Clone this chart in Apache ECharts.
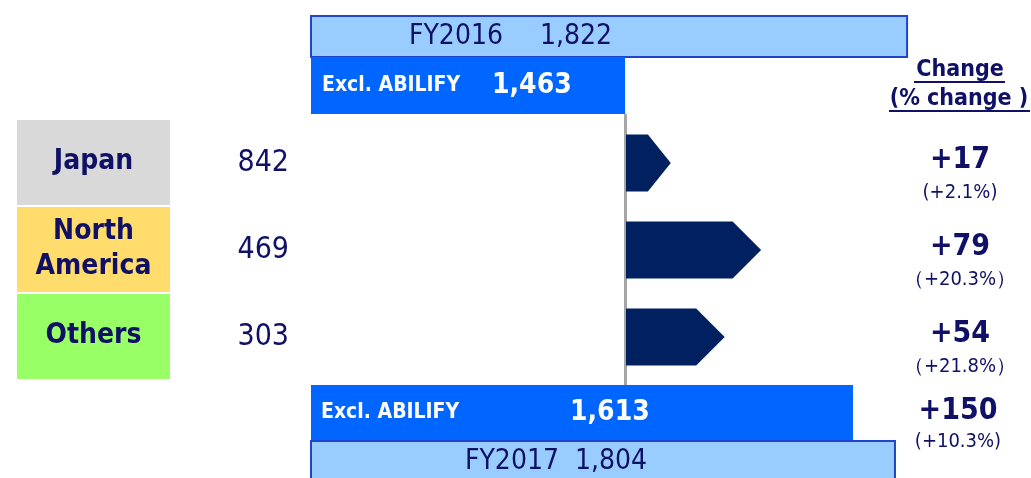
<!DOCTYPE html>
<html>
<head>
<meta charset="utf-8">
<script src="https://cdn.jsdelivr.net/npm/echarts@6/dist/echarts.min.js"></script>
<style>
  html, body { margin: 0; padding: 0; background: #fff; }
  #chart { width: 1031px; height: 478px; }
</style>
</head>
<body>
<div id="chart"></div>
<script>
// sales, 100 million yen
const topRows = ['FY2016', 'Excl. ABILIFY'];
const topValues = [1822, 1463];
const regions = ['Japan', 'North\nAmerica', 'Others'];
const regionSales = [842, 469, 303];
const regionChange = [17, 79, 54];
const regionChangePct = ['(+2.1%)', '（+20.3%）', '（+21.8%）'];
const bottomRows = ['Excl. ABILIFY', 'FY2017'];
const bottomValues = [1613, 1804];
const totalChange = 150;
const totalChangePct = '(+10.3%)';

const FONT = '"DejaVu Sans Condensed", "DejaVu Sans", sans-serif';
const NAVY = '#0f1066';
const regionColors = ['#d9d9d9', '#ffdc6b', '#99ff66'];

// the picture is not drawn to one scale, so each block gets its own axis
const TOP_MIN = 1062, TOP_MAX = 1953;
const MID_MIN = -14.4, MID_MAX = 260;
const BOT_MIN = -856, BOT_MAX = 2327;

const rowStyle = {
  fy: { fill: '#99ccff', stroke: '#2244cc', lineWidth: 2, color: NAVY,
        nameFont: 'normal 28px ' + FONT, valueFont: 'normal 28px ' + FONT },
  excl: { fill: '#0066ff', stroke: null, lineWidth: 0, color: '#ffffff',
          nameFont: 'bold 21px ' + FONT, valueFont: 'bold 28px ' + FONT }
};

const fmt = (v) => v.toLocaleString('en-US');

function text(str, x, y, font, color, align) {
  return {
    type: 'text',
    style: { text: str, x: x, y: y, font: font, fill: color,
             align: align || 'left', verticalAlign: 'middle', lineHeight: 35 }
  };
}

function barRenderer(rows, axisMin, kinds, heights, offsets, extra) {
  return function (params, api) {
    const i = params.dataIndex;
    const start = api.coord([axisMin, i]);
    const end = api.coord([api.value(0), i]);
    const st = rowStyle[kinds[i]];
    const h = heights[i];
    const yc = start[1];
    const children = [
      {
        type: 'rect',
        shape: { x: start[0] + 1, y: yc - h / 2, width: end[0] - start[0] - 1, height: h },
        style: { fill: st.fill, stroke: st.stroke, lineWidth: st.lineWidth }
      },
      text(rows[i], start[0] + offsets[i][0], yc, st.nameFont, st.color),
      text(fmt(api.value(0)), start[0] + offsets[i][1], yc, st.valueFont, st.color)
    ];
    if (extra) extra(i, yc, children);
    return { type: 'group', children: children };
  };
}

function regionRenderer(params, api) {
  const i = params.dataIndex;
  const start = api.coord([MID_MIN, i]);
  const end = api.coord([api.value(0), i]);
  const yc = start[1];
  const h = 57;
  const w = end[0] - start[0];
  const pt = Math.min(w, h) / 2;
  return {
    type: 'group',
    children: [
      {
        type: 'polygon',
        shape: { points: [
          [start[0] + 1, yc - h / 2], [end[0] - pt, yc - h / 2], [end[0], yc],
          [end[0] - pt, yc + h / 2], [start[0] + 1, yc + h / 2]
        ] },
        style: { fill: '#002060' }
      },
      {
        type: 'rect',
        shape: { x: 17, y: yc - 43, width: 153, height: 85 },
        style: { fill: regionColors[i] }
      },
      text(regions[i], 93.5, yc - 1, 'bold 28px ' + FONT, NAVY, 'center'),
      text(fmt(regionSales[i]), 289, yc, 'normal 30px ' + FONT, NAVY, 'right'),
      text('+' + regionChange[i], 960, yc - 3, 'bold 30px ' + FONT, NAVY, 'center'),
      text(regionChangePct[i], 960, yc + 30, 'normal 20px ' + FONT, NAVY, 'center')
    ]
  };
}

const chart = echarts.init(document.getElementById('chart'), null, { renderer: 'canvas' });

const hiddenX = (min, max, idx) => ({
  type: 'value', gridIndex: idx, min: min, max: max, show: false
});

chart.setOption({
  animation: false,
  backgroundColor: '#ffffff',
  grid: [
    { left: 310, top: 12, width: 700, height: 98 },
    { left: 625, top: 115, width: 400, height: 270 },
    { left: 310, top: 388, width: 700, height: 90 }
  ],
  xAxis: [
    hiddenX(TOP_MIN, TOP_MAX, 0),
    hiddenX(MID_MIN, MID_MAX, 1),
    hiddenX(BOT_MIN, BOT_MAX, 2)
  ],
  yAxis: [
    { type: 'category', gridIndex: 0, data: topRows, inverse: true, show: false },
    {
      type: 'value', gridIndex: 1, inverse: true, min: -0.55, max: 2.55,
      axisLine: { show: true, onZero: false, lineStyle: { color: '#a6a6a6', width: 3 } },
      axisTick: { show: false }, axisLabel: { show: false }, splitLine: { show: false }
    },
    { type: 'value', gridIndex: 2, inverse: true, min: -0.5, max: 1.337, show: false }
  ],
  graphic: [
    { type: 'text', style: { text: 'Change', x: 960, y: 70, font: 'bold 23px ' + FONT,
      fill: NAVY, align: 'center', verticalAlign: 'middle' } },
    { type: 'line', shape: { x1: 914, y1: 82, x2: 1005, y2: 82 },
      style: { stroke: NAVY, lineWidth: 2 } },
    { type: 'text', style: { text: '(% change )', x: 959, y: 99, font: 'bold 23px ' + FONT,
      fill: NAVY, align: 'center', verticalAlign: 'middle' } },
    { type: 'line', shape: { x1: 889, y1: 111, x2: 1030, y2: 111 },
      style: { stroke: NAVY, lineWidth: 2 } }
  ],
  series: [
    {
      type: 'custom', xAxisIndex: 0, yAxisIndex: 0,
      data: topValues.map((v, i) => [v, i]),
      encode: { x: 0, y: 1 },
      renderItem: barRenderer(topRows, TOP_MIN, ['fy', 'excl'], [41, 57], [[99, 230], [12, 182]])
    },
    {
      type: 'custom', xAxisIndex: 1, yAxisIndex: 1,
      data: regionChange.map((v, i) => [v, i]),
      encode: { x: 0, y: 1 },
      renderItem: regionRenderer
    },
    {
      type: 'custom', xAxisIndex: 2, yAxisIndex: 2,
      data: bottomValues.map((v, i) => [v, i]),
      encode: { x: 0, y: 1 },
      renderItem: barRenderer(bottomRows, BOT_MIN, ['excl', 'fy'], [55, 41], [[11, 260], [155, 265]],
        function (i, yc, children) {
          if (i !== 0) return;
          children.push(text('+' + totalChange, 958, yc - 1, 'bold 30px ' + FONT, NAVY, 'center'));
          children.push(text(totalChangePct, 958, yc + 29, 'normal 20px ' + FONT, NAVY, 'center'));
        })
    }
  ]
});
</script>
</body>
</html>
